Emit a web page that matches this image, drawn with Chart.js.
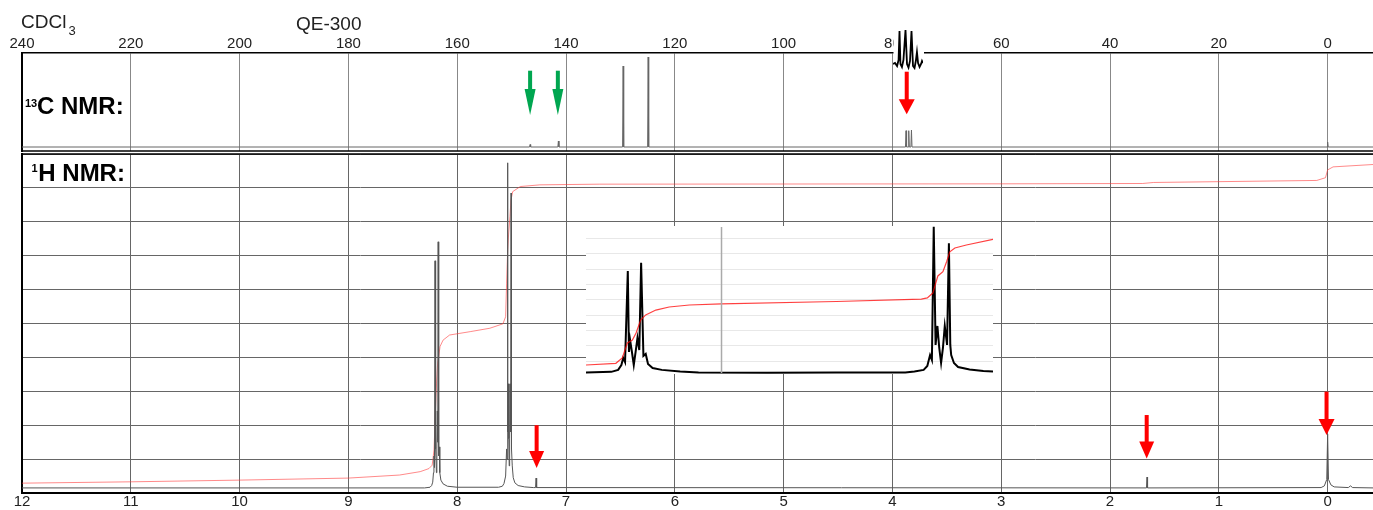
<!DOCTYPE html>
<html>
<head>
<meta charset="utf-8">
<title>NMR</title>
<script src="https://cdn.jsdelivr.net/npm/chart.js@4.4.1/dist/chart.umd.min.js"></script>
<style>
body { margin: 0; background: #fff; }
#wrap { position: relative; width: 1373px; height: 510px; }
#wrap canvas { position: absolute; left: 0; top: 0; }
</style>
</head>
<body>
<div id="wrap">
<canvas id="chart_c" width="1373" height="510"></canvas>
<canvas id="chart_h" width="1373" height="510"></canvas>
<canvas id="chart_inset" width="1373" height="510"></canvas>
<canvas id="chart_trip" width="1373" height="510"></canvas>
</div>
<script>
// 13C spectrum: peak positions (ppm) and heights above the baseline
var carbonShift = [146.6, 141.4, 129.5, 124.9, 77.5, 77.0, 76.5, 0.0]
var carbonHeight = [2.5, 6, 81, 90, 16.3, 16.3, 17, 5]
var carbonBase = 4
var carbonTicks = [240, 220, 200, 180, 160, 140, 120, 100, 80, 60, 40, 20, 0]

// 13C CDCl3 triplet, zoomed box above the axis
var tripShift = [77.667, 77.56, 77.45, 77.37, 77.32, 77.27, 77.19, 77.11, 77.0, 76.92, 76.84, 76.76, 76.68, 76.60, 76.52, 76.45, 76.39, 76.33, 76.25, 76.17, 76.12, 76.067]
var tripValue = [11, 12, 9, 15, 44, 11, 8, 15, 45, 11, 7.5, 14, 44, 9, 7, 14, 23, 12, 8, 11, 14, 12]

// 1H spectrum (ppm, grid units)
var hShift = [12.0, 8.30, 8.25, 8.235, 8.225, 8.218, 8.214, 8.209, 8.204, 8.2015, 8.199, 8.195, 8.191, 8.187, 8.183, 8.179, 8.175, 8.170, 8.165, 8.160, 8.150, 8.13, 8.09, 8.0,
  7.62, 7.585, 7.57, 7.555, 7.546, 7.542, 7.538, 7.534, 7.530, 7.526, 7.522, 7.518, 7.514, 7.509, 7.505, 7.502, 7.500, 7.494, 7.485, 7.47, 7.44, 7.38, 7.30,
  7.28, 7.275, 7.27, 1.665, 1.66, 1.655, 0.06, 0.03, 0.008, 0.0, -0.008, -0.03, -0.06, -0.19, -0.21, -0.23, -0.417]
var hValue = [0.15, 0.15, 0.17, 0.22, 0.32, 0.6, 1.09, 0.75, 6.85, 1.4, 2.30, 1.3, 0.6, 1.3, 2.42, 1.5, 7.41, 1.1, 1.36, 0.6, 0.38, 0.27, 0.2, 0.17,
  0.17, 0.2, 0.28, 0.5, 1.30, 1.0, 9.74, 1.8, 3.22, 1.6, 0.8, 1.6, 3.22, 1.8, 8.85, 1.8, 1.30, 0.8, 0.45, 0.3, 0.22, 0.18, 0.16,
  0.16, 0.44, 0.16, 0.15, 0.47, 0.15, 0.16, 0.21, 0.4, 1.74, 0.4, 0.24, 0.18, 0.16, 0.21, 0.16, 0.15]

// 1H integral curve
var intShift = [12.0, 11.0, 10.0, 9.0, 8.53, 8.34, 8.26, 8.23, 8.213, 8.20, 8.19, 8.18, 8.17, 8.158, 8.13, 8.07, 7.88, 7.70, 7.58, 7.555, 7.546, 7.536, 7.527, 7.515, 7.506, 7.49, 7.42, 7.24, 6.69, 3.0, 1.7, 1.6, 0.1, 0.02, 0.0, -0.05, -0.417]
var intValue = [0.29, 0.33, 0.38, 0.44, 0.53, 0.63, 0.72, 0.82, 1.27, 2.45, 3.24, 3.83, 4.02, 4.32, 4.51, 4.66, 4.76, 4.86, 4.99, 5.20, 6.19, 7.17, 7.67, 8.15, 8.64, 8.89, 9.04, 9.09, 9.11, 9.12, 9.13, 9.16, 9.22, 9.3, 9.53, 9.62, 9.69]
var hTicks = [12, 11, 10, 9, 8, 7, 6, 5, 4, 3, 2, 1, 0]

// 1H inset (aromatic region zoomed)
var insetShift = [8.295, 8.24, 8.225, 8.218, 8.214, 8.210, 8.204, 8.2015, 8.199, 8.195, 8.191, 8.187, 8.183, 8.179, 8.175, 8.170, 8.165, 8.160, 8.150, 8.13, 8.09, 8.05, 7.90, 7.75,
  7.60, 7.58, 7.56, 7.552, 7.546, 7.542, 7.538, 7.534, 7.530, 7.526, 7.522, 7.518, 7.514, 7.509, 7.505, 7.502, 7.500, 7.494, 7.485, 7.46, 7.43, 7.409]
var insetValue = [0.25, 0.29, 0.42, 0.74, 1.20, 0.93, 6.88, 1.59, 2.37, 1.59, 0.74, 1.59, 2.50, 1.72, 7.42, 1.33, 1.46, 0.80, 0.54, 0.42, 0.31, 0.25, 0.24, 0.25,
  0.25, 0.31, 0.42, 0.67, 1.39, 1.07, 9.78, 2.05, 3.29, 1.85, 0.87, 1.85, 3.29, 2.05, 8.69, 2.05, 1.39, 0.87, 0.61, 0.44, 0.35, 0.31]
var insetIntShift = [8.295, 8.23, 8.216, 8.205, 8.194, 8.186, 8.176, 8.165, 8.143, 8.114, 8.07, 8.0, 7.75, 7.565, 7.552, 7.54, 7.529, 7.518, 7.51, 7.503, 7.492, 7.467, 7.409]
var insetIntValue = [0.74, 0.85, 1.20, 2.18, 2.37, 2.83, 3.68, 4.01, 4.33, 4.53, 4.66, 4.73, 4.89, 5.05, 5.12, 5.44, 6.56, 6.84, 7.49, 8.14, 8.39, 8.58, 8.95]
var insetMarker = 8.0

Chart.defaults.font.family = '"Liberation Sans", Arial, sans-serif'
Chart.defaults.font.size = 15
Chart.defaults.color = '#222'

function toPoints(xs, ys) {
    return xs.map(function (x, i) { return { x: x, y: ys[i] } })
}

// 13C stick spectrum built from the peak list
var carbonLine = [{ x: 240, y: carbonBase }]
carbonShift.forEach(function (s, i) {
    carbonLine.push({ x: s + 0.1, y: carbonBase }, { x: s, y: carbonBase + carbonHeight[i] }, { x: s - 0.1, y: carbonBase })
})
carbonLine.push({ x: -8.34, y: carbonBase })

function lineSet(data, color, width) {
    return { data: data, borderColor: color, borderWidth: width, pointRadius: 0, fill: false, tension: 0 }
}

function drawArrow(ctx, x, yTop, yTip, color, headW, headL) {
    ctx.save()
    ctx.fillStyle = color
    ctx.fillRect(x - 2, yTop, 4, yTip - headL - yTop + 1)
    ctx.beginPath()
    ctx.moveTo(x - headW / 2, yTip - headL)
    ctx.lineTo(x + headW / 2, yTip - headL)
    ctx.lineTo(x, yTip)
    ctx.closePath()
    ctx.fill()
    ctx.restore()
}

// arrows are given in data units of the chart they sit on
var arrowPlugin = {
    id: 'arrows',
    afterDatasetsDraw: function (chart) {
        var list = chart.options.plugins.arrows.list
        var xs = chart.scales.x, ys = chart.scales.y
        list.forEach(function (a) {
            drawArrow(chart.ctx, xs.getPixelForValue(a.ppm), ys.getPixelForValue(a.from), ys.getPixelForValue(a.to), a.color, a.w, a.l)
        })
    }
}

function hLine(ctx, x0, x1, y, w) {
    ctx.save()
    ctx.strokeStyle = '#000'
    ctx.lineWidth = w
    ctx.beginPath()
    ctx.moveTo(x0, y)
    ctx.lineTo(x1, y)
    ctx.stroke()
    ctx.restore()
}

var labelsC = {
    id: 'labelsC',
    afterDraw: function (chart) {
        var ctx = chart.ctx, a = chart.chartArea
        hLine(ctx, a.left, a.right, a.bottom, 1.5)
        ctx.save()
        ctx.fillStyle = '#222'
        ctx.textBaseline = 'alphabetic'
        ctx.font = '19px "Liberation Sans", Arial, sans-serif'
        ctx.fillText('CDCl', 21, 27.5)
        ctx.fillText('QE-300', 296, 29.5)
        ctx.font = '13px "Liberation Sans", Arial, sans-serif'
        ctx.fillText('3', 68.5, 34.5)
        ctx.fillStyle = '#000'
        ctx.font = 'bold 11px "Liberation Sans", Arial, sans-serif'
        ctx.fillText('13', 25, 106.5)
        ctx.font = 'bold 24px "Liberation Sans", Arial, sans-serif'
        ctx.fillText('C NMR:', 37, 113.5)
        ctx.restore()
    }
}

var labelsH = {
    id: 'labelsH',
    afterDraw: function (chart) {
        var ctx = chart.ctx, a = chart.chartArea
        hLine(ctx, a.left, a.right, a.top, 1.5)
        ctx.save()
        ctx.fillStyle = '#000'
        ctx.font = 'bold 11px "Liberation Sans", Arial, sans-serif'
        ctx.fillText('1', 31.5, 172)
        ctx.font = 'bold 24px "Liberation Sans", Arial, sans-serif'
        ctx.fillText('H NMR:', 38.3, 180.7)
        ctx.restore()
    }
}

// white box behind an inset
function boxPlugin(x0, y0, x1, y1) {
    return {
        id: 'box',
        beforeDraw: function (chart) {
            chart.ctx.save()
            chart.ctx.fillStyle = '#fff'
            chart.ctx.fillRect(x0, y0, x1 - x0, y1 - y0)
            chart.ctx.restore()
        }
    }
}

function tickSetter(values) {
    return function (s) { s.ticks = values.map(function (v) { return { value: v } }) }
}

var common = {
    responsive: false,
    animation: false,
    events: [],
    plugins: { legend: { display: false }, tooltip: { enabled: false } }
}

// 13C panel
new Chart(document.getElementById('chart_c'), {
    type: 'line',
    data: { datasets: [lineSet(carbonLine, '#666', 1)] },
    options: Object.assign({}, common, {
        layout: { padding: { left: 22, right: 0, top: 0, bottom: 359 } },
        scales: {
            x: {
                type: 'linear', position: 'top', reverse: true, min: -8.34, max: 240,
                afterBuildTicks: tickSetter(carbonTicks),
                afterFit: function (s) { s.height = 53 },
                ticks: { padding: 0, maxRotation: 0, autoSkip: false, color: '#222' },
                grid: { color: '#888', drawTicks: false },
                border: { color: '#000', width: 1.5 }
            },
            y: {
                min: 0, max: 98,
                afterFit: function (s) { s.width = 0 },
                ticks: { display: false },
                grid: { display: false, drawTicks: false },
                border: { color: '#000', width: 2 }
            }
        },
        plugins: Object.assign({}, common.plugins, {
            arrows: {
                list: [
                    { ppm: 146.6, from: 80.3, to: 36, color: '#00a650', w: 11, l: 26 },
                    { ppm: 141.5, from: 80.3, to: 36, color: '#00a650', w: 11, l: 26 },
                    { ppm: 77.37, from: 79.3, to: 36.7, color: '#ff0000', w: 16, l: 15 }
                ]
            }
        })
    }),
    plugins: [arrowPlugin, labelsC]
})

// 1H panel
new Chart(document.getElementById('chart_h'), {
    type: 'line',
    data: {
        datasets: [
            lineSet(toPoints(hShift, hValue), '#555', 1),
            lineSet(toPoints(intShift, intValue), 'rgba(255,60,60,0.6)', 1)
        ]
    },
    options: Object.assign({}, common, {
        layout: { padding: { left: 22, right: 0, top: 154, bottom: 0 } },
        scales: {
            x: {
                type: 'linear', position: 'bottom', reverse: true, min: -0.417, max: 12,
                afterBuildTicks: tickSetter(hTicks),
                afterFit: function (s) { s.height = 17 },
                ticks: { padding: 0, maxRotation: 0, autoSkip: false, color: '#222' },
                grid: { color: '#666', drawTicks: false },
                border: { color: '#000', width: 2 }
            },
            y: {
                min: 0, max: 10,
                afterBuildTicks: tickSetter([0, 1, 2, 3, 4, 5, 6, 7, 8, 9, 10]),
                afterFit: function (s) { s.width = 0 },
                ticks: { display: false },
                grid: { color: '#666', drawTicks: false },
                border: { color: '#000', width: 2 }
            }
        },
        plugins: Object.assign({}, common.plugins, {
            arrows: {
                list: [
                    { ppm: 7.27, from: 2.0, to: 0.74, color: '#ff0000', w: 15, l: 17 },
                    { ppm: 1.663, from: 2.30, to: 1.02, color: '#ff0000', w: 15, l: 17 },
                    { ppm: 0.01, from: 2.99, to: 1.71, color: '#ff0000', w: 16, l: 16 }
                ]
            }
        })
    }),
    plugins: [arrowPlugin, labelsH]
})

// inset of the aromatic multiplets
new Chart(document.getElementById('chart_inset'), {
    type: 'line',
    data: {
        datasets: [
            lineSet([{ x: insetMarker, y: 0.22 }, { x: insetMarker, y: 9.76 }], '#aaa', 1.5),
            lineSet(toPoints(insetIntShift, insetIntValue), 'rgba(255,0,0,0.75)', 1.2),
            lineSet(toPoints(insetShift, insetValue), '#000', 2)
        ]
    },
    options: Object.assign({}, common, {
        layout: { padding: { left: 586, right: 380, top: 222, bottom: 133.7 } },
        scales: {
            x: { type: 'linear', display: false, reverse: true, min: 7.409, max: 8.295 },
            y: {
                min: 0, max: 10.085,
                afterBuildTicks: tickSetter([1, 2, 3, 4, 5, 6, 7, 8, 9]),
                afterFit: function (s) { s.width = 0 },
                ticks: { display: false },
                grid: { color: '#e8e8e8', drawTicks: false },
                border: { display: false }
            }
        }
    }),
    plugins: [boxPlugin(586, 226, 993, 374)]
})

// zoomed CDCl3 triplet over the top axis
new Chart(document.getElementById('chart_trip'), {
    type: 'line',
    data: { datasets: [lineSet(toPoints(tripShift, tripValue), '#000', 1.8)] },
    options: Object.assign({}, common, {
        layout: { padding: { left: 893, right: 450, top: 18, bottom: 435 } },
        scales: {
            x: { type: 'linear', display: false, reverse: true, min: 76.067, max: 77.667 },
            y: { display: false, min: 0, max: 57 }
        }
    }),
    plugins: [boxPlugin(893.5, 16, 924, 71)]
})
</script>
</body>
</html>
